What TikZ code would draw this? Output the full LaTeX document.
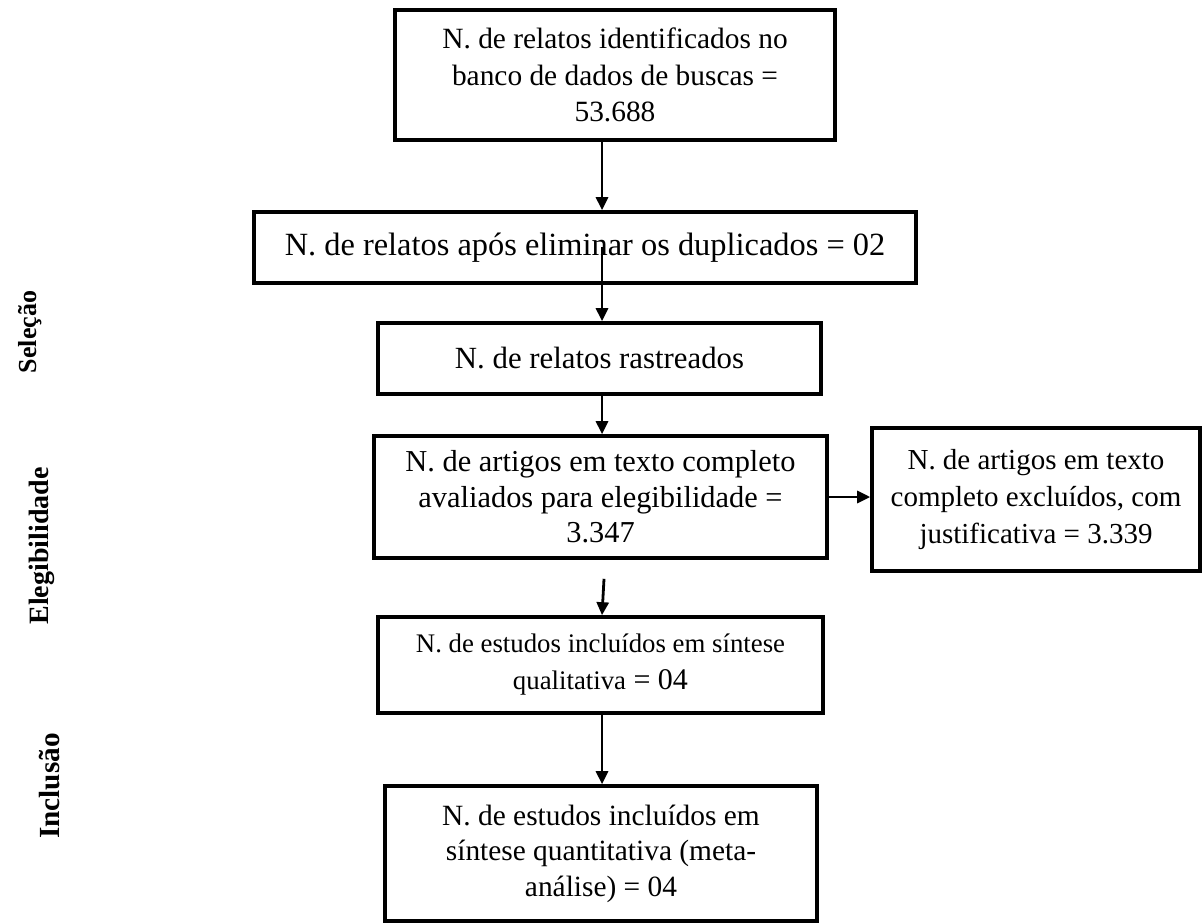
\documentclass[tikz,border=0pt]{standalone}
\usepackage{fontspec}
\setmainfont{Liberation Serif}
\usetikzlibrary{arrows.meta, positioning}

\begin{document}
\begin{tikzpicture}[x=0.5pt, y=-0.5pt]
	\tikzset {>={Triangle[length=6.5pt, width=6pt]}, arr/.style={->, line width=1.4pt},
		box/.style={draw, line width=1.8pt, align=center, inner sep=0pt, font=\fontsize{15}{18.5}\selectfont},
		fase/.style={rotate=90, font=\fontsize{14}{16}\selectfont\bfseries} }
	\useasboundingbox (0,0) rectangle (1202,924);
	
	\coordinate (spine) at (602,0);
	\node[box, minimum width=220pt, minimum height=65pt, font=\fontsize{14.7}{18.3}\selectfont] (ident) at (615,75) {N. de relatos identificados no\\ banco de dados de buscas =\\ 53.688};
	\node[box, minimum width=331pt, minimum height=35.5pt, font=\fontsize{16.2}{18.5}\selectfont] (dupl) at (585,247.5) {N. de relatos após eliminar os duplicados = 02};
	\node[box, minimum width=221.5pt, minimum height=35.5pt, font=\fontsize{15.4}{18.5}\selectfont] (rastr) at (599.5,358.5) {N. de relatos rastreados};
	\node[box, minimum width=226.5pt, minimum height=61pt, font=\fontsize{15.2}{17.8}\selectfont] (eleg) at (600.5,497) {N. de artigos em texto completo\\ avaliados para elegibilidade =\\ 3.347};
	\node[box, minimum width=164pt, minimum height=71.5pt, font=\fontsize{14.5}{18.5}\selectfont] (excl) at (1036,499.5) {N. de artigos em texto\\ completo excluídos, com\\ justificativa = 3.339};
	\node[box, minimum width=222.5pt, minimum height=48pt] (quali) at (600.5,665) {{\fontsize{13.4}{18}\selectfont N. de estudos incluídos em síntese}\\ {\fontsize{13.4}{18}\selectfont qualitativa} = 04};
	\node[box, minimum width=216pt, minimum height=67.5pt, font=\fontsize{14.7}{17.8}\selectfont] (quanti) at (601,853.5) {N. de estudos incluídos em\\ síntese quantitativa (meta-\\ análise) = 04};
	
	% fases
	\node[fase, font=\fontsize{13}{16}\selectfont\bfseries] (selecao) at (30,332) {Seleção};
	\node[fase] (elegib) at (42,546) {Elegibilidade};
	\node[fase, font=\fontsize{14.6}{16}\selectfont\bfseries] (inclusao) at (50,786) {Inclusão};
	
	\draw[arr] (spine |- ident.south) -- (spine |- dupl.north);
	\draw[arr] (spine |- dupl.center) -- (spine |- rastr.north);
	\draw[arr] (spine |- rastr.south) -- (spine |- eleg.north);
	\draw[arr] (eleg.east) -- (eleg.east -| excl.west);
	\draw[arr] (spine |- eleg.south) ++(2,19) -- (spine |- quali.north);
	\draw[arr] (spine |- quali.south) -- (spine |- quanti.north);
\end{tikzpicture}
\end{document}
